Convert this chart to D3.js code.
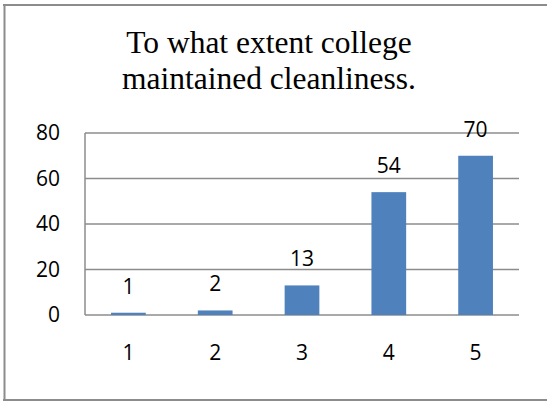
<!DOCTYPE html>
<html><head><meta charset="utf-8">
<script src="https://cdn.jsdelivr.net/npm/d3@7"></script>
<style>body{margin:0;background:#fff;overflow:hidden}svg{display:block}
.ttl{font-family:"Liberation Serif",serif}
.lbl{font-family:"Open Sans",sans-serif}
</style>
</head><body>
<script>
const categories = ["1","2","3","4","5"];
const values = [1,2,13,54,70];
const yTicks = [0,20,40,60,80];
const titleLines = ["To what extent college","maintained cleanliness."];

(function(){
const W = 547, H = 402;
const svg = d3.select("body").append("svg").attr("width", W).attr("height", H);
const bc = "#8c8c8c";
svg.append("line").attr("x1", 3).attr("x2", W).attr("y1", 5).attr("y2", 5).attr("stroke", bc).attr("stroke-width", 2);
svg.append("line").attr("x1", 3).attr("x2", W).attr("y1", 400).attr("y2", 400).attr("stroke", bc).attr("stroke-width", 2);
svg.append("line").attr("x1", 4.5).attr("x2", 4.5).attr("y1", 4).attr("y2", 401).attr("stroke", bc).attr("stroke-width", 2);

const pL = 85, pR = 519, pT = 133, pB = 315;
const x = d3.scaleBand().domain(categories).range([pL, pR]).paddingInner(0.6).paddingOuter(0.3);
const y = d3.scaleLinear().domain([0, 80]).range([pB, pT]);

const t = svg.append("text").attr("class", "ttl").attr("font-family", "Liberation Serif")
  .attr("font-size", 31.5).attr("text-anchor", "middle").attr("fill", "#000");
titleLines.forEach((l, i) => t.append("tspan").attr("x", 269).attr("y", 53 + i * 36).text(l));

svg.append("g").selectAll("line").data(yTicks).join("line")
  .attr("x1", pL).attr("x2", pR).attr("y1", d => y(d)).attr("y2", d => y(d))
  .attr("stroke", bc).attr("stroke-width", 1.5);
svg.append("line").attr("x1", pL).attr("x2", pL).attr("y1", pT).attr("y2", pB)
  .attr("stroke", bc).attr("stroke-width", 1.5);

const yAxis = d3.axisLeft(y).tickValues(yTicks).tickSize(0).tickPadding(25);
const ga = svg.append("g").attr("transform", `translate(${pL},0)`).call(yAxis);
ga.attr("font-family", "Open Sans").attr("font-size", 21);
ga.select(".domain").remove();
ga.selectAll("text").attr("class", "lbl").attr("fill", "#000");

const xAxis = d3.axisBottom(x).tickSize(0).tickPadding(30);
const gx = svg.append("g").attr("transform", `translate(0,${pB})`).call(xAxis);
gx.attr("font-family", "Open Sans").attr("font-size", 21);
gx.select(".domain").remove();
gx.selectAll("text").attr("class", "lbl").attr("fill", "#000");

svg.append("g").selectAll("rect").data(values).join("rect")
  .attr("x", (d, i) => x(categories[i])).attr("width", x.bandwidth())
  .attr("y", d => y(d)).attr("height", d => pB - y(d)).attr("fill", "#4F81BD");

svg.append("g").selectAll("text").data(values).join("text")
  .attr("class", "lbl")
  .attr("x", (d, i) => x(categories[i]) + x.bandwidth() / 2)
  .attr("y", d => y(d) - 19)
  .attr("text-anchor", "middle").attr("font-family", "Open Sans").attr("font-size", 21).attr("fill", "#000")
  .text(d => d);
})();
</script>
</body></html>
